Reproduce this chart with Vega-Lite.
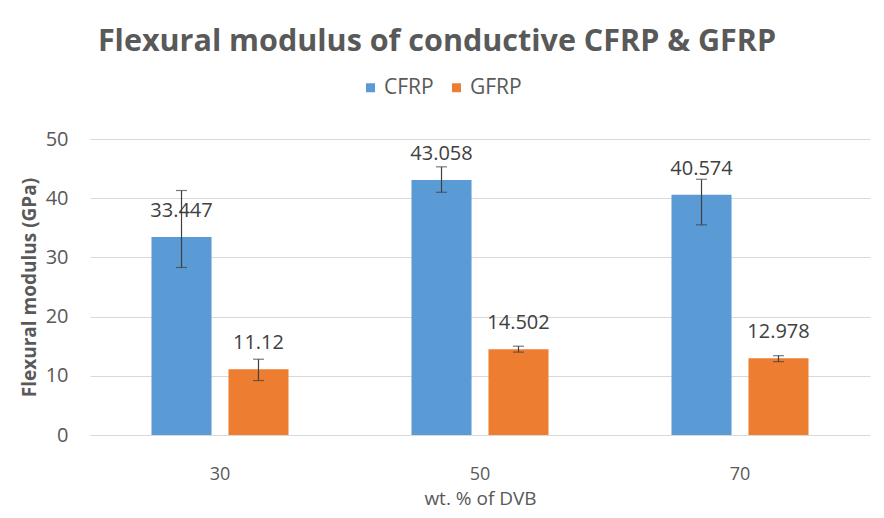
{
  "$schema": "https://vega.github.io/schema/vega-lite/v6.json",
  "width": 780,
  "height": 296,
  "autosize": {"type": "none"},
  "padding": {"left": 90, "top": 139, "right": 14, "bottom": 83},
  "background": "white",
  "config": {
    "font": "Open Sans",
    "view": {"stroke": null},
    "axis": {"labelColor": "#595959", "titleColor": "#595959", "domain": false, "ticks": false, "gridColor": "#d9d9d9"}
  },
  "title": {
    "text": "Flexural modulus of conductive CFRP & GFRP",
    "fontSize": 30.5,
    "fontWeight": "bold",
    "color": "#595959",
    "anchor": "middle",
    "dx": -43,
    "offset": 20
  },
  "data": {
    "values": [
      {"dvb": "30", "series": "CFRP", "value": 33.447, "lo": 28.3, "hi": 41.3},
      {"dvb": "30", "series": "GFRP", "value": 11.12, "lo": 9.2, "hi": 12.8},
      {"dvb": "50", "series": "CFRP", "value": 43.058, "lo": 41.0, "hi": 45.3},
      {"dvb": "50", "series": "GFRP", "value": 14.502, "lo": 14.0, "hi": 15.0},
      {"dvb": "70", "series": "CFRP", "value": 40.574, "lo": 35.5, "hi": 43.2},
      {"dvb": "70", "series": "GFRP", "value": 12.978, "lo": 12.4, "hi": 13.4}
    ]
  },
  "encoding": {
    "x": {
      "field": "dvb", "type": "nominal",
      "scale": {"paddingInner": 0.473, "paddingOuter": 0.2365},
      "axis": {"title": "wt. % of DVB", "labelAngle": 0, "labelFontSize": 18, "labelPadding": 30, "titleFontSize": 19, "titleFontWeight": "normal", "titlePadding": 6, "grid": false}
    },
    "xOffset": {"field": "series", "type": "nominal", "scale": {"paddingInner": 0.22, "paddingOuter": 0}}
  },
  "layer": [
    {
      "mark": {"type": "bar"},
      "encoding": {
        "y": {
          "field": "value", "type": "quantitative",
          "scale": {"domain": [0, 50]},
          "axis": {"title": "Flexural modulus (GPa)", "values": [0, 10, 20, 30, 40, 50], "labelFontSize": 20, "labelPadding": 22, "titleFontSize": 19, "titleFontWeight": "bold", "titlePadding": 6}
        },
        "color": {
          "field": "series", "type": "nominal",
          "scale": {"domain": ["CFRP", "GFRP"], "range": ["#5B9BD5", "#ED7D31"]},
          "legend": {"title": null, "orient": "none", "legendX": 270, "legendY": -62, "direction": "horizontal", "symbolType": "square", "symbolSize": 81, "labelFontSize": 21, "labelColor": "#595959", "columnPadding": 12, "labelOffset": 3}
        }
      }
    },
    {
      "mark": {"type": "rule", "color": "#404040", "strokeWidth": 1.2},
      "encoding": {
        "y": {"field": "lo", "type": "quantitative"},
        "y2": {"field": "hi"}
      }
    },
    {
      "mark": {"type": "tick", "color": "#404040", "size": 11, "thickness": 1.2},
      "encoding": {"y": {"field": "lo", "type": "quantitative"}}
    },
    {
      "mark": {"type": "tick", "color": "#404040", "size": 11, "thickness": 1.2},
      "encoding": {"y": {"field": "hi", "type": "quantitative"}}
    },
    {
      "mark": {"type": "text", "fontSize": 20, "color": "#404040", "dy": -26, "baseline": "middle"},
      "encoding": {
        "y": {"field": "value", "type": "quantitative"},
        "text": {"field": "value", "type": "quantitative"}
      }
    }
  ]
}
